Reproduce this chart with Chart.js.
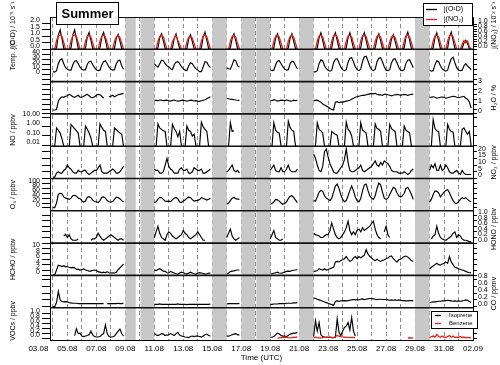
<!DOCTYPE html>
<html>
<head>
<meta charset="utf-8">
<title>Summer</title>
<script src="https://cdn.jsdelivr.net/npm/chart.js@4.4.1/dist/chart.umd.min.js"></script>
<style>
  html, body { margin: 0; padding: 0; background: #fff; }
  canvas { display: block; }
</style>
</head>
<body>
<canvas id="summerChart" width="500" height="365"></canvas>
<script>
const _ = null;
const lo = 0.008; // NO below the axis floor

// 3-hourly values (00,03,...,21 UTC), one row per day; day 0 = 04.08
const jO1D = [
  0,0,0.1,1.1,1.5,0.85,0.06,0,
  0,0,0.1,1.1,1.5,0.8,0.05,0,
  0,0,0.1,0.95,1.3,0.7,0.05,0,
  0,0,0.1,0.95,1.3,0.72,0.05,0,
  0,0,0.08,0.85,1.15,0.65,0.05,0,
  _,_,_,_,_,_,_,_,
  _,_,_,_,_,_,_,_,
  0,0,0.1,0.9,1.2,0.65,0.05,0,
  0,0,0.1,0.85,1.2,0.6,0.05,0,
  0,0,0.08,0.8,1.13,0.6,0.04,0,
  0,0,0.1,0.95,1.33,0.7,0.05,0,
  _,_,_,_,_,_,_,_,
  0,0,0.1,0.85,1.2,0.65,0.05,0,
  _,_,_,_,_,_,_,_,
  _,_,_,_,_,_,_,_,
  0,0,0.1,0.85,1.2,0.62,0.05,0,
  0,0,0.1,0.85,1.2,0.6,0.05,0,
  _,_,_,_,_,_,_,_,
  0,0,0.1,0.9,1.28,0.7,0.05,0,
  0,0,0.1,0.92,1.28,0.7,0.05,0,
  0,0,0.1,0.9,1.28,0.68,0.05,0,
  0,0,0.1,0.92,1.28,0.7,0.05,0,
  0,0,0.1,0.85,1.2,0.66,0.05,0,
  0,0,0.08,0.8,1.13,0.62,0.04,0,
  0,0,0.1,0.95,1.33,0.7,0.05,0,
  _,_,_,_,_,_,_,_,
  0,0,0.1,0.9,1.28,0.68,0.05,0,
  0,0,0.1,0.95,1.33,0.7,0.05,0,
  0,0,0.06,0.5,0.7,0.45,0.03,0
];

const jNO2 = [
  0,0.01,0.35,0.54,0.58,0.52,0.28,0.01,
  0,0.01,0.35,0.55,0.58,0.52,0.27,0.01,
  0,0.01,0.33,0.52,0.56,0.5,0.25,0.01,
  0,0.01,0.34,0.53,0.57,0.5,0.26,0.01,
  0,0.01,0.32,0.5,0.55,0.48,0.25,0.01,
  _,_,_,_,_,_,_,_,
  _,_,_,_,_,_,_,_,
  0,0.01,0.33,0.52,0.56,0.5,0.25,0.01,
  0,0.01,0.3,0.45,0.55,0.35,0.2,0.01,
  0,0.01,0.3,0.48,0.5,0.46,0.22,0.01,
  0,0.01,0.34,0.54,0.58,0.5,0.25,0.01,
  _,_,_,_,_,_,_,_,
  0,0.01,0.33,0.52,0.56,0.48,0.24,0.01,
  _,_,_,_,_,_,_,_,
  _,_,_,_,_,_,_,_,
  0,0.01,0.33,0.53,0.56,0.5,0.25,0.01,
  0,0.01,0.33,0.52,0.56,0.49,0.24,0.01,
  _,_,_,_,_,_,_,_,
  0,0.01,0.34,0.54,0.57,0.5,0.26,0.01,
  0,0.01,0.34,0.55,0.58,0.5,0.26,0.01,
  0,0.01,0.33,0.54,0.57,0.5,0.25,0.01,
  0,0.01,0.34,0.55,0.58,0.51,0.26,0.01,
  0,0.01,0.33,0.53,0.56,0.49,0.25,0.01,
  0,0.01,0.3,0.5,0.54,0.47,0.23,0.01,
  0,0.01,0.34,0.55,0.58,0.5,0.26,0.01,
  _,_,_,_,_,_,_,_,
  0,0.01,0.33,0.54,0.57,0.5,0.25,0.01,
  0,0.01,0.34,0.55,0.58,0.5,0.26,0.01,
  0,0.01,0.2,0.35,0.25,0.33,0.1,0
];

const temperature = [
  6,5,8,22,30,32,22,14,
  11,9,9,20,27,28,22,15,
  11,9,10,21,26,27,20,14,
  10,8,9,20,26,28,22,15,
  11,9,10,22,28,29,18,11,
  _,_,_,_,_,_,_,_,
  _,_,_,_,_,_,_,_,
  22,18,15,22,29,28,22,18,
  16,12,10,20,25,26,22,16,
  12,9,8,18,24,22,16,12,
  9,6,6,16,26,25,18,14,
  _,_,_,_,_,_,_,_,
  14,12,11,20,30,28,18,15,
  _,_,_,_,_,_,_,_,
  _,_,_,_,_,_,_,_,
  10,8,9,20,27,28,22,16,
  11,9,10,22,27,26,18,12,
  _,_,_,_,_,_,_,_,
  5,6,8,22,30,28,18,12,
  9,7,9,24,31,32,24,15,
  10,8,10,25,33,34,26,16,
  10,8,11,27,36,37,28,17,
  10,8,11,26,33,34,26,16,
  9,8,10,24,31,32,24,15,
  9,8,10,23,29,30,22,14,
  _,_,_,_,_,_,_,_,
  9,7,8,20,28,26,18,12,
  9,7,9,22,32,35,24,14,
  9,8,9,18,22,17,14,10
];

const waterVapour = [
  0.4,0.4,0.45,1.3,1.6,1.75,1.7,1.8,
  1.85,2.0,1.9,1.75,1.7,1.8,1.9,1.7,
  1.7,1.8,1.9,2.0,1.85,1.7,1.65,1.75,
  1.9,2.0,1.95,1.8,1.6,_,_,1.75,
  1.8,1.9,1.75,1.85,1.95,2.0,2.05,2.1,
  _,_,_,_,_,_,_,_,
  _,_,_,_,_,_,_,_,
  1.4,1.38,1.35,1.4,1.42,1.35,1.38,1.4,
  1.35,1.3,1.38,1.42,1.35,1.3,1.33,1.38,
  1.4,1.35,1.3,1.35,1.4,1.38,1.32,1.35,
  1.3,1.28,1.35,1.4,1.45,1.55,1.65,1.75,
  _,_,_,_,_,_,_,_,
  1.6,1.55,1.5,1.48,1.45,1.42,1.4,1.38,
  _,_,_,_,_,_,_,_,
  _,_,_,_,_,_,_,_,
  1.4,1.35,1.45,1.4,1.3,1.35,1.4,1.38,
  1.35,1.42,1.38,1.3,1.32,1.4,1.35,1.38,
  _,_,_,_,_,_,_,_,
  1.35,1.38,1.4,1.3,1.2,1.0,0.9,0.8,
  0.7,0.55,0.45,0.4,1.2,1.25,1.15,1.2,
  1.2,1.25,1.3,1.35,1.4,1.5,1.6,1.7,
  1.75,1.8,1.85,1.9,1.9,1.95,2.0,2.05,
  2.1,2.05,2.1,2.0,1.95,1.95,1.9,2.0,
  2.0,1.95,1.9,1.85,1.9,1.95,2.0,1.95,
  1.9,1.95,2.0,1.95,1.9,1.95,2.0,2.0,
  _,_,_,_,_,_,_,_,
  1.7,1.72,1.75,1.7,1.6,1.65,1.7,1.72,
  1.7,1.6,1.65,1.7,1.75,1.8,1.78,1.7,
  1.65,1.7,1.75,1.8,1.6,1.5,1.2,0.6
];

const nitricOxide = [
  lo,lo,0.7,0.4,0.2,0.05,lo,lo,
  lo,lo,1.7,1.0,0.6,0.35,0.2,lo,
  lo,lo,1.1,0.5,0.2,0.06,lo,lo,
  lo,lo,1.9,0.8,0.4,0.3,lo,lo,
  lo,lo,0.7,0.45,0.3,0.2,0.15,lo,
  _,_,_,_,_,_,_,_,
  _,_,_,_,_,_,_,_,
  lo,lo,1.9,0.7,0.5,0.35,0.3,lo,
  lo,lo,1.7,0.6,0.3,0.08,0.3,lo,
  lo,lo,1.1,0.4,0.3,0.1,0.15,lo,
  lo,lo,2.9,0.9,0.5,0.3,lo,lo,
  _,_,_,_,_,_,_,_,
  _,lo,2.5,0.3,0.35,_,_,_,
  _,_,_,_,_,_,_,_,
  _,_,_,_,_,_,_,_,
  lo,lo,2.5,0.4,0.25,0.2,lo,lo,
  lo,lo,3.7,0.8,0.4,0.3,lo,lo,
  _,_,_,_,_,_,_,_,
  lo,lo,2.5,0.5,0.35,0.2,lo,lo,
  lo,lo,0.3,0.2,0.15,0.12,lo,lo,
  lo,lo,2.9,0.5,0.3,0.1,lo,lo,
  lo,lo,2.5,0.4,0.3,0.2,lo,lo,
  lo,lo,1.9,0.6,0.5,0.3,lo,lo,
  lo,lo,1.7,0.6,0.4,0.3,lo,lo,
  lo,lo,1.1,0.4,0.3,0.2,lo,lo,
  _,_,_,_,_,_,_,_,
  lo,lo,5.5,0.6,0.35,0.3,lo,lo,
  lo,lo,1.7,0.5,0.3,0.25,lo,lo,
  lo,lo,0.5,0.7,0.3,0.15,0.3,lo
];

const nitrogenDioxide = [
  1,1,4,5,4,4,6,7,
  10,8,7,5,4,4,6,5,
  5,6,6,4,3,4,5,6,
  6,8,10,5,4,4,4,5,
  6,7,6,4,4,5,7,9,
  _,_,_,_,_,_,_,_,
  _,_,_,_,_,_,_,_,
  7,6,6,4,4,5,10,15,
  9,7,6,4,4,4,7,8,
  6,6,7,4,4,5,8,7,
  6,6,7,4,4,5,6,7,
  _,_,_,_,_,_,_,_,
  5,6,8,10,6,5,6,4,
  _,_,_,_,_,_,_,_,
  _,_,_,_,_,_,_,_,
  6,8,10,6,5,5,8,5,
  5,7,10,6,5,5,5,7,
  _,_,_,_,_,_,_,_,
  18,15,10,6,5,9,20,22,
  16,11,8,5,4,4,6,8,
  10,14,22,12,6,5,5,6,
  7,8,10,6,5,6,7,8,
  9,11,13,10,9,12,10,13,
  12,11,9,6,5,5,5,4,
  4,4,5,4,3,4,6,7,
  _,_,_,_,_,_,_,_,
  6,10,8,11,6,6,10,6,
  7,10,8,5,4,4,5,6,
  4,3,6,4,3,3,3,3
];

const ozone = [
  1,1,20,57,60,58,45,40,
  38,35,40,50,52,48,40,38,
  30,24,28,44,46,42,32,26,
  25,22,30,44,45,40,30,25,
  24,26,35,44,43,38,30,24,
  _,_,_,_,_,_,_,_,
  _,_,_,_,_,_,_,_,
  22,25,36,43,42,35,28,27,
  28,26,33,40,43,38,24,22,
  28,32,40,44,42,34,28,30,
  31,34,42,40,36,32,36,40,
  _,_,_,_,_,_,_,_,
  15,20,30,40,43,38,36,35,
  _,_,_,_,_,_,_,_,
  _,_,_,_,_,_,_,_,
  15,18,25,35,33,28,20,15,
  18,25,38,48,50,42,32,22,
  _,_,_,_,_,_,_,_,
  30,28,45,65,72,68,50,40,
  36,30,40,65,90,98,80,55,
  35,25,30,50,72,90,70,45,
  30,25,38,70,95,98,72,50,
  40,35,50,80,102,95,65,40,
  35,40,55,70,85,80,62,50,
  45,50,60,80,85,72,55,35,
  _,_,_,_,_,_,_,_,
  25,35,55,70,68,62,45,55,
  65,72,75,62,45,30,20,18,
  25,35,42,38,42,35,28,25
];

const hono = [
  _,_,_,_,_,_,0.25,0.32,
  0.2,0.3,0.15,0.1,0.1,0.1,0.15,_,
  _,_,_,_,_,0.1,0.15,0.15,
  0.2,0.35,0.25,0.15,0.1,0.15,0.2,0.25,
  0.3,0.25,0.2,0.15,0.1,0.15,0.15,0.1,
  _,_,_,_,_,_,_,_,
  _,_,_,_,_,_,_,_,
  0.2,0.4,0.6,0.35,0.2,0.15,0.1,0.3,
  0.4,0.35,0.25,0.2,0.15,0.2,0.25,0.3,
  0.45,0.35,0.3,0.2,0.15,0.2,0.25,0.3,
  0.4,0.3,0.2,0.1,0.1,_,_,_,
  _,_,_,_,_,_,_,_,
  0.2,0.35,0.5,0.25,0.15,0.1,0.15,0.2,
  _,_,_,_,_,_,_,_,
  _,_,_,_,_,_,_,_,
  0.15,0.3,0.45,0.2,0.15,0.1,0.1,0.15,
  _,_,_,_,_,_,_,_,
  _,_,_,_,_,_,_,_,
  0.35,0.3,0.28,0.25,0.2,0.2,0.25,0.3,
  0.3,0.45,0.72,0.5,0.3,0.2,0.15,0.2,
  0.3,0.4,0.55,0.78,0.45,0.3,0.4,0.3,
  0.45,0.5,0.4,0.55,0.45,0.5,0.55,0.6,
  0.7,0.78,0.5,0.3,0.2,0.15,_,0.4,
  0.6,0.3,0.2,_,_,_,_,_,
  _,_,_,_,_,_,_,_,
  _,_,_,_,_,_,_,_,
  _,0.15,0.25,0.3,0.6,0.35,0.2,0.15,
  0.12,0.1,0.15,0.2,0.25,0.35,0.4,0.2,
  0.3,0.25,0.15,0.1,0.1,0.08,0.05,0.05
];

const hcho = [
  0.2,0.2,2.0,3.8,3.6,3.3,3.6,3.2,
  3.3,3.0,2.8,3.0,2.8,2.2,2.3,2.0,
  2.2,2.4,2.0,1.8,1.6,1.6,1.9,2.0,
  1.8,1.4,1.2,1.0,1.2,1.0,1.4,0.9,
  0.9,1.0,0.9,1.2,2.1,2.8,3.5,4.2,
  _,_,_,_,_,_,_,_,
  _,_,_,_,_,_,_,_,
  2.0,1.8,2.2,2.5,2.0,1.6,1.5,1.0,
  0.9,1.5,1.2,0.9,0.6,0.5,0.9,1.2,
  1.0,0.7,0.5,0.9,1.2,0.9,0.6,0.5,
  0.8,1.0,0.9,0.7,0.5,0.6,0.9,0.8,
  _,_,_,_,_,_,_,_,
  0.5,0.8,1.4,1.6,1.7,1.9,2.0,2.0,
  _,_,_,_,_,_,_,_,
  _,_,_,_,_,_,_,_,
  0.5,0.6,0.8,1.0,1.2,0.9,0.8,1.0,
  1.2,1.5,1.6,1.5,1.8,1.9,2.0,2.1,
  _,_,_,_,_,_,_,_,
  1.5,1.6,1.8,2.5,2.2,2.0,2.5,2.0,
  2.2,2.5,2.8,3.0,5.0,5.2,5.0,5.5,
  5.8,6.2,7.0,6.0,5.2,5.5,6.5,7.0,
  6.2,7.0,6.5,7.0,7.5,9.6,8.0,7.0,
  6.5,5.8,5.5,6.0,5.5,5.2,5.5,5.8,
  6.2,6.5,7.0,7.2,6.2,5.5,5.0,5.8,
  6.0,6.5,7.0,7.2,6.8,6.2,5.5,5.2,
  _,_,_,_,_,_,_,_,
  2.5,3.0,3.5,4.0,4.5,4.0,3.8,4.2,
  4.5,5.0,4.5,7.0,5.0,4.0,3.0,2.8,
  2.5,2.2,2.0,1.8,1.5,1.2,1.0,1.0
];

const carbonMonoxide = [
  0,0,0.12,0.45,0.2,0.15,0.14,0.15,
  0.14,0.12,0.11,0.1,0.1,0.1,0.09,0.09,
  0.09,0.09,0.09,0.09,0.09,0.09,0.09,0.09,
  0.09,0.09,0.09,0.09,0.09,_,0.09,0.09,
  0.09,0.09,0.09,0.09,0.1,0.09,0.09,0.1,
  _,_,_,_,_,_,_,_,
  _,_,_,_,_,_,_,_,
  0.07,0.07,0.07,0.08,0.07,0.07,0.07,0.07,
  0.07,0.07,0.07,0.07,0.07,0.08,0.07,0.07,
  0.07,0.07,0.06,0.07,0.07,0.07,0.07,0.07,
  0.07,0.07,0.07,0.07,0.07,0.07,0.07,0.08,
  _,_,_,_,_,_,_,_,
  0.08,0.09,0.09,0.09,0.09,0.09,0.09,0.09,
  _,_,_,_,_,_,_,_,
  _,_,_,_,_,_,_,_,
  0.07,0.07,0.08,0.08,0.08,0.09,0.09,0.09,
  0.09,0.1,0.1,0.1,0.1,0.11,0.11,0.12,
  _,_,_,_,_,_,_,_,
  0.26,0.24,0.22,0.2,0.18,0.16,0.14,0.12,
  0.1,0.08,0.06,0.04,0.15,0.17,0.16,0.17,
  0.17,0.18,0.17,0.18,0.19,0.2,0.21,0.2,
  0.21,0.2,0.22,0.23,0.21,0.22,0.23,0.24,
  0.24,0.23,0.22,0.21,0.22,0.22,0.21,0.21,
  0.21,0.2,0.19,0.2,0.19,0.2,0.19,0.2,
  0.19,0.18,0.18,0.17,0.17,0.18,0.18,0.17,
  _,_,_,_,_,_,_,_,
  0.12,0.13,0.14,0.14,0.15,0.16,0.16,0.17,
  0.17,0.18,0.19,0.18,0.17,0.16,0.17,0.16,
  0.17,0.16,0.17,0.18,0.2,0.19,0.15,0.13
];

const isoprene = [
  _,_,_,_,_,_,_,_,
  _,_,_,_,0.12,0.39,0.2,0.22,
  0.1,0.08,0.1,0.12,0.15,0.3,0.15,0.08,
  0.06,0.06,0.08,0.15,0.2,0.55,0.2,0.08,
  0.06,0.07,0.1,0.2,0.3,0.38,0.2,0.1,
  _,_,_,_,_,_,_,_,
  _,_,_,_,_,_,_,_,
  0.2,0.15,0.12,0.15,0.2,0.18,0.12,0.14,
  0.15,0.2,0.16,0.12,0.2,0.25,0.14,0.1,
  0.08,0.06,0.05,0.04,0.08,0.1,0.08,0.1,
  0.1,0.08,0.06,0.1,0.15,0.18,0.12,0.1,
  _,_,_,_,_,_,_,_,
  0.1,0.1,0.12,0.15,0.18,0.2,0.15,0.15,
  _,_,_,_,_,_,_,_,
  _,_,_,_,_,_,_,_,
  0.05,0.05,0.08,0.15,0.22,0.18,0.12,0.1,
  0.1,0.08,0.12,0.18,0.2,0.22,0.22,0.25,
  _,_,_,_,_,_,_,_,
  0.08,0.72,0.3,0.65,0.15,0.08,0.06,0.05,
  0.04,0.04,0.03,0.03,0.05,0.8,0.25,0.12,
  0.3,0.45,0.5,0.65,0.35,0.85,0.3,0.1,
  _,_,_,_,_,_,_,_,
  _,_,_,_,_,_,_,_,
  _,_,_,_,_,_,_,_,
  _,_,_,_,_,_,_,_,
  _,_,_,_,_,_,_,_,
  _,_,_,_,_,_,_,_,
  _,_,_,_,_,_,_,_,
  _,_,_,_,_,_,_,_
];

const benzene = [
  _,_,_,_,_,_,_,_,
  _,_,_,_,_,_,_,_,
  _,_,_,_,_,_,_,_,
  _,_,_,_,_,_,_,_,
  _,_,_,_,_,_,_,_,
  _,_,_,_,_,_,_,_,
  _,_,_,_,_,_,_,_,
  _,_,_,_,_,_,_,_,
  _,_,_,_,_,_,_,_,
  _,_,_,_,_,_,_,_,
  _,_,_,_,_,_,_,_,
  _,_,_,_,_,_,_,_,
  _,_,_,_,_,_,_,_,
  _,_,_,_,_,_,_,_,
  _,_,_,_,_,_,_,_,
  _,_,_,_,0.02,0.03,0.05,0.04,
  0.05,0.06,0.04,0.03,0.04,0.06,0.05,0.07,
  _,_,_,_,_,_,_,_,
  0.05,0.06,0.04,0.03,0.03,0.04,0.05,0.06,
  0.06,0.07,0.05,0.04,0.08,0.12,0.1,0.08,
  0.07,0.06,0.05,0.05,0.04,0.05,0.05,0.04,
  _,_,_,_,_,_,_,_,
  _,_,_,_,_,_,_,_,
  _,_,_,_,_,_,_,_,
  _,_,_,_,0.02,0.03,0.02,0.03,
  _,_,_,_,_,_,_,_,
  0.03,0.08,0.1,0.06,0.16,0.08,0.05,0.1,
  0.06,0.04,0.08,0.12,0.05,0.1,0.04,0.06,
  0.05,0.08,0.04,0.06,0.03,0.05,0.04,0.02
];

// shaded periods without measurements (days since 04.08)
const gapPeriods = [[5, 5.72], [6.05, 7], [11, 12], [13, 13.95], [14.05, 15], [17, 18], [25, 26]];

// time axis: a dashed line every day, a date label every second day
const dayTicks = [-1, 0, 1, 2, 3, 4, 5, 6, 7, 8, 9, 10, 11, 12, 13, 14, 15, 16, 17, 18, 19, 20, 21, 22, 23, 24, 25, 26, 27, 28, 29];
const dateLabels = ['03.08', '', '05.08', '', '07.08', '', '09.08', '', '11.08', '', '13.08', '', '15.08', '', '17.08', '',
  '19.08', '', '21.08', '', '23.08', '', '25.08', '', '27.08', '', '29.08', '', '31.08', '', '02.09'];

// y ticks: [value, label]
const ticksJO1D = [[0, '0.0'], [0.5, '0.5'], [1, '1.0'], [1.5, '1.5'], [2, '2.0']];
const ticksJNO2 = [[0, '0.0'], [0.1, ''], [0.2, '0.2'], [0.3, ''], [0.4, '0.4'], [0.5, ''], [0.6, '0.6'], [0.7, ''], [0.8, '0.8'], [0.9, ''], [1, '1.0']];
const ticksTemp = [[-10, ''], [0, '0'], [10, '10'], [20, '20'], [30, '30'], [40, '40'], [50, '']];
const ticksH2O = [[0, '0'], [0.5, ''], [1, '1'], [1.5, ''], [2, '2'], [2.5, ''], [3, '3']];
const ticksNO = [[0.01, '0.01'], [0.1, '0.10'], [1, '1.00'], [10, '10.00']];
const ticksNO2 = [[0, '0'], [5, '5'], [10, '10'], [15, '15'], [20, '20']];
const ticksO3 = [[0, '0'], [20, '20'], [40, '40'], [60, '60'], [80, '80'], [100, '100']];
const ticksHONO = [[0, '0.0'], [0.2, '0.2'], [0.4, '0.4'], [0.6, '0.6'], [0.8, '0.8'], [1, '1.0']];
const ticksHCHO = [[0, '0'], [2, '2'], [4, '4'], [6, '6'], [8, '8'], [10, '10']];
const ticksCO = [[0, '0.0'], [0.2, '0.2'], [0.4, '0.4'], [0.6, '0.6'], [0.8, '0.8']];
const ticksVOC = [[0, '0.0'], [0.2, '0.2'], [0.4, '0.4'], [0.6, '0.6'], [0.8, '0.8'], [1, '1.0']];

const BLACK = '#000000';
const RED = '#e8201c';
const FONT = "'Liberation Sans', Arial, sans-serif";
const STEP = 1 / 8;

Chart.defaults.font.family = FONT;
Chart.defaults.color = '#000';

const toPoints = vals => vals.map((v, i) => ({x: i * STEP, y: v}));

function line(label, vals, axis, color, order) {
  return {
    label, data: toPoints(vals), yAxisID: axis,
    borderColor: color, borderWidth: color === RED ? 1.3 : 1.15, pointRadius: 0,
    tension: 0, spanGaps: false, order
  };
}

function yScale(panel, side, range, ticks, showLabels, type) {
  return {
    type: type || 'linear',
    position: side,
    stack: side,
    stackWeight: 1,
    weight: side === 'left' ? 10 - panel : panel,
    min: range[0],
    max: range[1],
    bounds: 'data',
    afterFit: s => { s.width = side === 'left' ? 50 : 27; },
    afterBuildTicks: s => { s.ticks = ticks.map(t => ({value: t[0]})); },
    grid: {drawOnChartArea: false, tickLength: side === 'left' ? 8 : 4, tickColor: '#000', tickWidth: 1},
    border: {color: '#000', width: 1},
    ticks: {
      autoSkip: false, maxRotation: 0, padding: side === 'left' ? 2 : 1, labelOffset: -3,
      color: '#000', font: {size: 7},
      callback: (v, i) => showLabels ? ticks[i][1] : ''
    }
  };
}

const panelTitles = [
  ['L0', 'left', 'j(O¹D) / 10⁻⁵ s⁻¹', -8],
  ['R0', 'right', 'j(NO₂) / 10⁻² s⁻¹', -8],
  ['L1', 'left', 'Temp. / C', -10],
  ['R2', 'right', 'H₂O / %', 0],
  ['L3', 'left', 'NO / ppbv', 0],
  ['R4', 'right', 'NO₂ / ppbv', 0],
  ['L5', 'left', 'O₃ / ppbv', 0],
  ['R6', 'right', 'HONO / ppbv', 2],
  ['L7', 'left', 'HCHO / ppbv', 0],
  ['R8', 'right', 'CO / ppmv', 2],
  ['L9', 'left', 'VOCs / ppbv', -3]
];

function drawLegend(ctx, box, items) {
  ctx.fillStyle = '#fff';
  ctx.fillRect(box.x, box.y, box.w, box.h);
  ctx.strokeStyle = '#000';
  ctx.lineWidth = 1;
  ctx.strokeRect(box.x + 0.5, box.y + 0.5, box.w, box.h);
  ctx.font = box.font;
  ctx.textAlign = 'left';
  ctx.textBaseline = 'middle';
  items.forEach(([text, color, y]) => {
    ctx.strokeStyle = color;
    ctx.lineWidth = 1.3;
    ctx.beginPath();
    ctx.moveTo(box.x + box.s0, y);
    ctx.lineTo(box.x + box.s1, y);
    ctx.stroke();
    ctx.fillStyle = '#000';
    ctx.fillText(text, box.x + box.tx, y);
  });
}

const decorations = {
  id: 'decorations',
  beforeDatasetsDraw(chart) {
    const {ctx, chartArea: a, scales: {x}} = chart;
    ctx.save();
    ctx.fillStyle = '#c8c8c8';
    gapPeriods.forEach(([s, e]) => {
      const x1 = x.getPixelForValue(s);
      const x2 = x.getPixelForValue(e);
      ctx.fillRect(x1, a.top, x2 - x1, a.bottom - a.top);
    });
    ctx.restore();
  },
  afterDatasetsDraw(chart) {
    const {ctx, chartArea: a, scales} = chart;
    ctx.save();
    ctx.strokeStyle = '#111';
    ctx.lineWidth = 1.6;
    for (let p = 0; p < 9; p++) {
      const y = scales['L' + p].bottom;
      ctx.beginPath();
      ctx.moveTo(a.left, y);
      ctx.lineTo(a.right, y);
      ctx.stroke();
    }
    ctx.lineWidth = 1;
    ctx.beginPath();
    ctx.moveTo(a.left, a.top + 0.5);
    ctx.lineTo(a.right, a.top + 0.5);
    ctx.stroke();
    ctx.restore();
  },
  afterDraw(chart) {
    const {ctx, scales} = chart;
    ctx.save();
    // rotated axis titles
    ctx.font = '7px ' + FONT;
    ctx.fillStyle = '#000';
    ctx.textAlign = 'center';
    ctx.textBaseline = 'middle';
    panelTitles.forEach(([id, side, text, dy]) => {
      const s = scales[id];
      const cy = (s.top + s.bottom) / 2 + dy;
      const cx = side === 'left' ? 13 : 494;
      ctx.save();
      ctx.translate(cx, cy);
      ctx.rotate(-Math.PI / 2);
      ctx.fillText(text, 0, 0);
      ctx.restore();
    });
    // legends
    drawLegend(ctx, {x: 423, y: 3, w: 49, h: 22, s0: 3, s1: 14, tx: 21, font: '7px ' + FONT},
      [['j(O¹D)', BLACK, 9.5], ['j(NO₂)', RED, 19.5]]);
    drawLegend(ctx, {x: 431, y: 311, w: 46, h: 17, s0: 4, s1: 10, tx: 18, font: '6px ' + FONT},
      [['Isoprene', BLACK, 315.5], ['Benzene', RED, 323.5]]);
    // season box
    ctx.fillStyle = '#fff';
    ctx.fillRect(56, 2, 62, 22);
    ctx.strokeStyle = '#000';
    ctx.lineWidth = 1;
    ctx.strokeRect(56.5, 2.5, 62, 22);
    ctx.fillStyle = '#000';
    ctx.font = 'bold 13px ' + FONT;
    ctx.textAlign = 'center';
    ctx.textBaseline = 'middle';
    ctx.fillText('Summer', 87.5, 14);
    ctx.restore();
  }
};

const datasets = [
  line('j(NO₂)', jNO2, 'R0', RED, 0),
  line('j(O¹D)', jO1D, 'L0', BLACK, 1),
  line('Temp.', temperature, 'L1', BLACK, 1),
  line('H₂O', waterVapour, 'R2', BLACK, 1),
  line('NO', nitricOxide, 'L3', BLACK, 1),
  line('NO₂', nitrogenDioxide, 'R4', BLACK, 1),
  line('O₃', ozone, 'L5', BLACK, 1),
  line('HONO', hono, 'R6', BLACK, 1),
  line('HCHO', hcho, 'L7', BLACK, 1),
  line('CO', carbonMonoxide, 'R8', BLACK, 1),
  line('Isoprene', isoprene, 'L9', BLACK, 1),
  line('Benzene', benzene, 'L9', RED, 0)
];

const chart = new Chart(document.getElementById('summerChart'), {
  type: 'line',
  data: {datasets},
  options: {
    responsive: false,
    animation: false,
    devicePixelRatio: 1,
    layout: {padding: {top: 17, left: 0, right: 0, bottom: 0}},
    plugins: {legend: {display: false}, tooltip: {enabled: false}},
    scales: {
      x: {
        type: 'linear',
        position: 'bottom',
        min: -0.2,
        max: 29,
        bounds: 'data',
        afterFit: s => { s.height = 25; },
        afterBuildTicks: s => { s.ticks = dayTicks.map(v => ({value: v})); },
        grid: {
          drawTicks: false,
          lineWidth: 1,
          color: c => (c.tick && c.tick.value < 0) ? 'rgba(0,0,0,0)' : '#8c8c8c'
        },
        border: {color: '#000', width: 1, dash: [4, 3]},
        ticks: {autoSkip: false, maxRotation: 0, padding: 4, color: '#000', font: {size: 8},
          callback: (v, i) => dateLabels[i]},
        title: {display: true, text: 'Time (UTC)', color: '#000', font: {size: 8}, padding: {top: 0, bottom: 2}}
      },
      L0: yScale(0, 'left', [0, 2.5], ticksJO1D, true),
      R0: yScale(0, 'right', [0, 1.3], ticksJNO2, true),
      L1: yScale(1, 'left', [-14, 51], ticksTemp, true),
      R1: yScale(1, 'right', [-14, 51], ticksTemp, false),
      L2: yScale(2, 'left', [0, 3.3], ticksH2O, false),
      R2: yScale(2, 'right', [0, 3.3], ticksH2O, true),
      L3: yScale(3, 'left', [0.008, 22], ticksNO, true, 'logarithmic'),
      R3: yScale(3, 'right', [0.008, 22], ticksNO, false, 'logarithmic'),
      L4: yScale(4, 'left', [0, 24], ticksNO2, false),
      R4: yScale(4, 'right', [0, 24], ticksNO2, true),
      L5: yScale(5, 'left', [-12, 121], ticksO3, true),
      R5: yScale(5, 'right', [-12, 121], ticksO3, false),
      L6: yScale(6, 'left', [0, 1.15], ticksHONO, false),
      R6: yScale(6, 'right', [0, 1.15], ticksHONO, true),
      L7: yScale(7, 'left', [0, 12], ticksHCHO, true),
      R7: yScale(7, 'right', [0, 12], ticksHCHO, false),
      L8: yScale(8, 'left', [-0.03, 0.92], ticksCO, false),
      R8: yScale(8, 'right', [-0.03, 0.92], ticksCO, true),
      L9: yScale(9, 'left', [-0.06, 1.25], ticksVOC, true),
      R9: yScale(9, 'right', [-0.06, 1.25], ticksVOC, false)
    }
  },
  plugins: [decorations]
});
</script>
</body>
</html>
